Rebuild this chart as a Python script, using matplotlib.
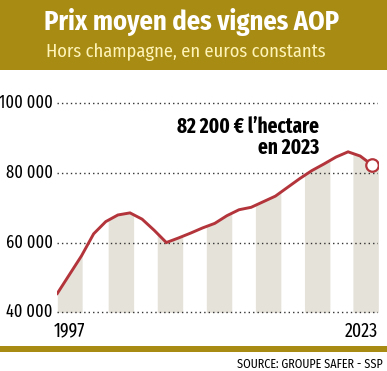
import numpy as np
import matplotlib
matplotlib.use("Agg")
import matplotlib.pyplot as plt
from matplotlib.patches import Rectangle

# values (euros per hectare, constant euros)
years = np.arange(1997, 2024)
prices = [45400, 50800, 56200, 62500, 66000, 67900, 68500, 66700, 63500, 60000,
          61300, 62700, 64200, 65500, 67700, 69400, 70100, 71700, 73300, 75800,
          78300, 80600, 82500, 84500, 86000, 84800, 82200]
yticks = [40000, 60000, 80000, 100000]
ytick_labels = ["40 000", "60 000", "80 000", "100 000"]
stripe_centers = [1998.0, 2002.25, 2006.3, 2010.35, 2014.4, 2018.45, 2022.45]

title = "Prix moyen des vignes AOP"
subtitle = "Hors champagne, en euros constants"
note = "82 200 € l\u2019hectare\nen 2023"
source = "SOURCE: GROUPE SAFER - SSP"

gold = "#A88B12"
red = "#B3343A"
stripe = "#E5E2D9"
font = ["Fira Sans Condensed", "DejaVu Sans"]
narrow = ["Fira Sans Extra Condensed", "DejaVu Sans"]

W, H = 387, 371
fig = plt.figure(figsize=(W / 100, H / 100), dpi=100)
fig.patch.set_facecolor("white")

# header band
fig.patches.append(Rectangle((0, 1 - 70 / H), 1, 70 / H, transform=fig.transFigure,
                             facecolor=gold, edgecolor="none", zorder=0))
fig.text(192 / W, 1 - 22 / H, title, color="white", fontsize=19, fontweight="bold",
         family=font, ha="center", va="center")
fig.text(186 / W, 1 - 52 / H, subtitle, color="#FFF4B8", fontsize=13.3,
         family=font, ha="center", va="center")

# bottom rule and source
fig.patches.append(Rectangle((0, 1 - 352 / H), 1, 6 / H, transform=fig.transFigure,
                             facecolor=gold, edgecolor="none"))
fig.text(383 / W, 1 - 364 / H, source, color="black", fontsize=8.7,
         family=font, ha="right", va="center")

# plot area in pixel coordinates
left, right, top, bottom = 57, 378, 100, 315
ax = fig.add_axes([left / W, 1 - bottom / H, (right - left) / W, (bottom - top) / H])
pxyr = (372.3 - 57.3) / 26
ax.set_xlim(1997 - 0.3 / pxyr, 1997 + (right - 57.3) / pxyr)
pxval = (312.3 - 103) / 60000
ax.set_ylim(40000 - (bottom - 312.3) / pxval, 100000 + (103 - top) / pxval)

for c in stripe_centers:
    xs = np.linspace(max(c - 1.05, 1997), c + 1.05, 60)
    ax.fill_between(xs, 40000, np.interp(xs, years, prices), color=stripe,
                    linewidth=0, zorder=1)

for t in yticks:
    ax.axhline(t, color="#333333", linewidth=1.0, linestyle=(0, (1, 2.2)), zorder=2)

ax.plot(years, prices, color=red, linewidth=2.1, zorder=3, solid_joinstyle="miter")
ax.plot(years[-1], prices[-1], "o", markersize=9, markerfacecolor="white",
        markeredgecolor=red, markeredgewidth=1.6, zorder=4)

ax.text(2018.6, 90200, note, fontsize=15, fontweight="bold", family=narrow,
        ha="right", va="center", linespacing=1.0)

for t, lab in zip(yticks, ytick_labels):
    fig.text(53 / W, 1 - (312.3 - (t - 40000) * pxval) / H, lab, fontsize=12.8,
             family=narrow, ha="right", va="center", color="black")
fig.text(54 / W, 1 - 331 / H, "1997", fontsize=14, family=narrow, ha="left", va="center")
fig.text(378 / W, 1 - 331 / H, "2023", fontsize=14, family=narrow, ha="right", va="center")

ax.axis("off")
fig.savefig("out.png", dpi=100, facecolor="white")
